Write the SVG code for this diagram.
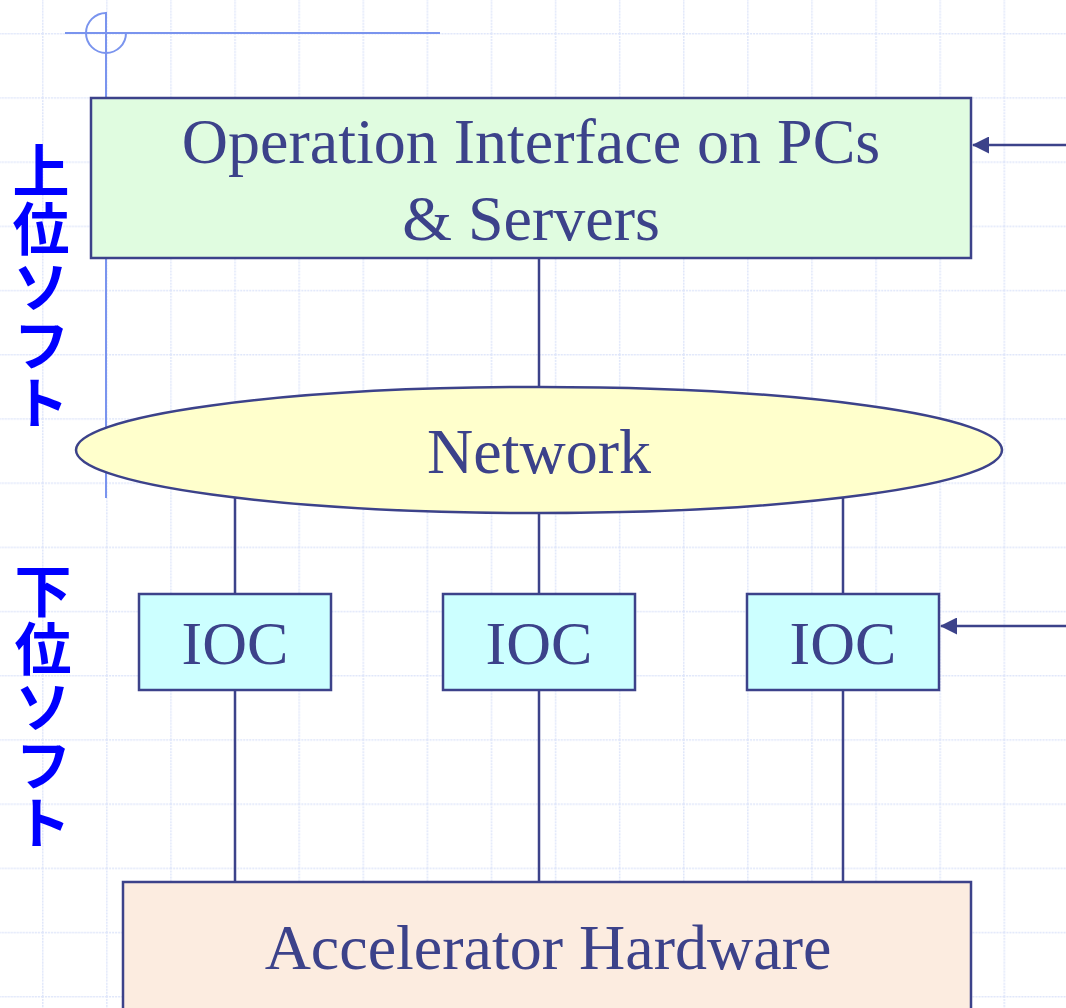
<svg xmlns="http://www.w3.org/2000/svg" width="1066" height="1008" viewBox="0 0 1066 1008">
  <defs>
    <pattern id="grid" x="42" y="33" width="64.1" height="64.2" patternUnits="userSpaceOnUse">
      <line x1="0" y1="0" x2="0" y2="64.2" stroke="#dfe6fa" stroke-width="3" stroke-dasharray="2 1"/>
      <line x1="0" y1="0" x2="64.1" y2="0" stroke="#dfe6fa" stroke-width="3" stroke-dasharray="2 1"/>
    </pattern>
    <marker id="arrow" markerWidth="17" markerHeight="17" refX="16" refY="8.5" orient="auto" markerUnits="userSpaceOnUse">
      <path d="M0,0 L17,8.5 L0,17 Z" fill="#3c428a"/>
    </marker>
    <style>
      .box { stroke: #3c428a; stroke-width: 2.5; }
      .lbl { font-family: "Liberation Serif", "Times New Roman", serif; fill: #3c428a; text-anchor: middle; }
      .jp { font-family: "Noto Sans CJK JP", sans-serif; fill: #0000ff; font-size: 57px; font-weight: bold; writing-mode: vertical-rl; letter-spacing: 1px; }
      .conn { stroke: #3c428a; stroke-width: 2.5; fill: none; }
      .cross { stroke: #7a94ee; stroke-width: 2; fill: none; }
    </style>
  </defs>
  <rect x="0" y="0" width="1066" height="1008" fill="#ffffff"/>
  <rect x="0" y="0" width="1066" height="1008" fill="url(#grid)"/>

  <g id="crosshair">
    <line class="cross" x1="65" y1="33" x2="440" y2="33"/>
    <line class="cross" x1="106" y1="12" x2="106" y2="498"/>
    <path class="cross" d="M106,13 A20,20 0 1 0 126,33"/>
  </g>

  <g id="connectors">
    <line class="conn" x1="539" y1="258" x2="539" y2="450"/>
    <line class="conn" x1="235" y1="450" x2="235" y2="882"/>
    <line class="conn" x1="539" y1="450" x2="539" y2="882"/>
    <line class="conn" x1="843" y1="450" x2="843" y2="882"/>
    <line class="conn" x1="1066" y1="145" x2="973" y2="145" marker-end="url(#arrow)"/>
    <line class="conn" x1="1066" y1="626" x2="941" y2="626" marker-end="url(#arrow)"/>
  </g>

  <g id="operation-interface">
    <rect class="box" x="91" y="98" width="880" height="160" fill="#e0fce0"/>
    <text class="lbl" x="531" y="163" font-size="64">Operation Interface on PCs</text>
    <text class="lbl" x="531" y="240" font-size="64">&amp; Servers</text>
  </g>

  <g id="network">
    <ellipse class="box" cx="539" cy="450" rx="463" ry="63" fill="#ffffcc"/>
    <text class="lbl" x="539" y="473" font-size="64">Network</text>
  </g>

  <g id="ioc1">
    <rect class="box" x="139" y="594" width="192" height="96" fill="#ccffff"/>
    <text class="lbl" x="235" y="664" font-size="62">IOC</text>
  </g>
  <g id="ioc2">
    <rect class="box" x="443" y="594" width="192" height="96" fill="#ccffff"/>
    <text class="lbl" x="539" y="664" font-size="62">IOC</text>
  </g>
  <g id="ioc3">
    <rect class="box" x="747" y="594" width="192" height="96" fill="#ccffff"/>
    <text class="lbl" x="843" y="664" font-size="62">IOC</text>
  </g>

  <g id="accelerator-hardware">
    <rect class="box" x="123" y="882" width="848" height="140" fill="#fcece0"/>
    <text class="lbl" x="548" y="969" font-size="64">Accelerator Hardware</text>
  </g>

  <g id="upper-software-label">
    <text class="jp" x="41" y="142">上位ソフト</text>
  </g>
  <g id="lower-software-label">
    <text class="jp" x="43" y="562">下位ソフト</text>
  </g>
</svg>
